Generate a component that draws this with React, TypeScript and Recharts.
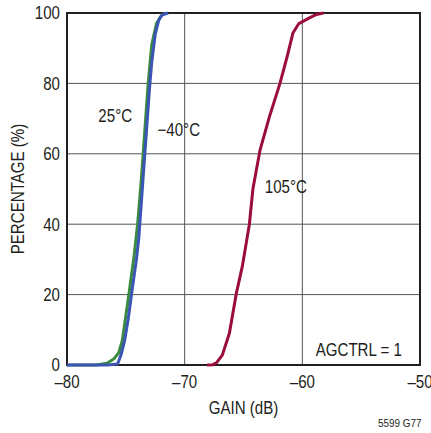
import React from "react";
import {
  LineChart,
  Line,
  XAxis,
  YAxis,
  CartesianGrid,
  ReferenceArea,
  ReferenceDot,
  Label,
} from "recharts";

// cumulative distribution, gain (dB) vs percentage (%)
const gainM40 = [-80, -76.5, -75.7, -75.4, -75.1, -74.8, -74.5, -74.1, -73.9, -73.6, -73.3, -73.0, -72.8, -72.5, -72.2, -71.9, -71.4];
const pctM40 = [0, 0, 0.3, 3, 7, 13, 20.5, 30, 36, 50, 64, 78, 86, 94, 98, 99.5, 100];

const gain25 = [-80, -77.5, -76.6, -76.0, -75.6, -75.3, -75.0, -74.7, -74.3, -74.0, -73.7, -73.4, -73.1, -72.8, -72.4, -72.0, -71.6];
const pct25 = [0, 0, 0.5, 1.8, 3.5, 7, 14, 21, 31, 40, 52, 66, 80, 91, 97, 99.2, 100];

const gain105 = [-68.1, -67.6, -67.3, -66.8, -66.2, -65.6, -65.1, -64.5, -64.2, -63.6, -62.8, -61.9, -61.3, -60.8, -60.3, -59.4, -58.8, -58.2];
const pct105 = [0, 0.1, 0.6, 2.8, 9, 20.5, 28, 40, 50, 61, 70.5, 80, 87.5, 94.3, 97, 98.6, 99.6, 100];

const xTicks = [-80, -70, -60, -50];
const yTicks = [0, 20, 40, 60, 80, 100];

const toPoints = (g: number[], p: number[]) => g.map((x, i) => ({ gain: x, pct: p[i] }));

const FONT = "'Liberation Sans', Arial, sans-serif";
const INK = "#231f20";
const SQUEEZE = 0.84; // fake a condensed face

const fmtTick = (v: number) => (v < 0 ? `\u2013${Math.abs(v)}` : String(v));

// horizontally condensed text, centred vertically on y
function CondText({ x, y, anchor = "middle", size = 18, rotate = 0, children }: any) {
  return (
    <g transform={`translate(${x},${y}) rotate(${rotate}) scale(${SQUEEZE},1)`}>
      <text x={0} y={0} dy="0.36em" textAnchor={anchor} fontSize={size} fontFamily={FONT} fill={INK}>
        {children}
      </text>
    </g>
  );
}

const dotLabel = (text: string) => (props: any) => {
  const vb = props.viewBox || {};
  const cx = (vb.x ?? 0) + (vb.width ?? 0) / 2;
  const cy = (vb.y ?? 0) + (vb.height ?? 0) / 2;
  return <CondText x={cx} y={cy}>{text}</CondText>;
};

export default function App() {
  return (
    <div style={{ position: "fixed", left: 0, top: 0, width: 431, height: 433, background: "#fff" }}>
      <LineChart
        width={431}
        height={433}
        margin={{ top: 13, right: 11, bottom: 38, left: 0 }}
      >
        <CartesianGrid
          stroke="#555"
          strokeWidth={1}
          horizontalValues={[20, 40, 60, 80]}
          verticalValues={[-70, -60]}
        />
        <XAxis
          type="number"
          dataKey="gain"
          domain={[-80, -50]}
          ticks={xTicks}
          axisLine={false}
          tickLine={false}
          height={30}
          tick={(p: any) => (
            <CondText key={p.index} x={p.x} y={382}>{fmtTick(p.payload.value)}</CondText>
          )}
          allowDataOverflow
        >
          <Label
            content={(p: any) => {
              const vb = p.viewBox;
              return <CondText x={vb.x + vb.width / 2} y={408}>GAIN (dB)</CondText>;
            }}
          />
        </XAxis>
        <YAxis
          type="number"
          dataKey="pct"
          domain={[0, 100]}
          ticks={yTicks}
          axisLine={false}
          tickLine={false}
          width={67}
          tick={(p: any) => (
            <CondText key={p.index} x={60} y={p.y} anchor="end">{p.payload.value}</CondText>
          )}
        >
          <Label
            content={(p: any) => {
              const vb = p.viewBox;
              return (
                <CondText x={18} y={vb.y + vb.height / 2} rotate={-90}>
                  PERCENTAGE (%)
                </CondText>
              );
            }}
          />
        </YAxis>
        <ReferenceArea x1={-80} x2={-50} y1={0} y2={100} fill="none" stroke={INK} strokeWidth={2} />
        <Line
          data={toPoints(gain25, pct25)}
          dataKey="pct"
          stroke="#3a8a3f"
          strokeWidth={3}
          dot={false}
          isAnimationActive={false}
        />
        <Line
          data={toPoints(gainM40, pctM40)}
          dataKey="pct"
          stroke="#3b55b5"
          strokeWidth={3}
          dot={false}
          isAnimationActive={false}
        />
        <Line
          data={toPoints(gain105, pct105)}
          dataKey="pct"
          stroke="#9b0d3a"
          strokeWidth={3}
          dot={false}
          isAnimationActive={false}
        />
        <ReferenceDot x={-75.9} y={71} r={0} fill="none" stroke="none" label={dotLabel("25°C")} />
        <ReferenceDot x={-70.5} y={66.8} r={0} fill="none" stroke="none" label={dotLabel("\u221240°C")} />
        <ReferenceDot x={-61.4} y={50.6} r={0} fill="none" stroke="none" label={dotLabel("105°C")} />
        <ReferenceDot x={-55.2} y={4.5} r={0} fill="none" stroke="none" label={dotLabel("AGCTRL = 1")} />
      </LineChart>
      <div
        style={{
          position: "absolute",
          left: 378,
          top: 417,
          fontSize: 11,
          fontFamily: FONT,
          color: INK,
          transform: "scaleX(0.9)",
          transformOrigin: "left top",
        }}
      >
        5599 G77
      </div>
    </div>
  );
}
